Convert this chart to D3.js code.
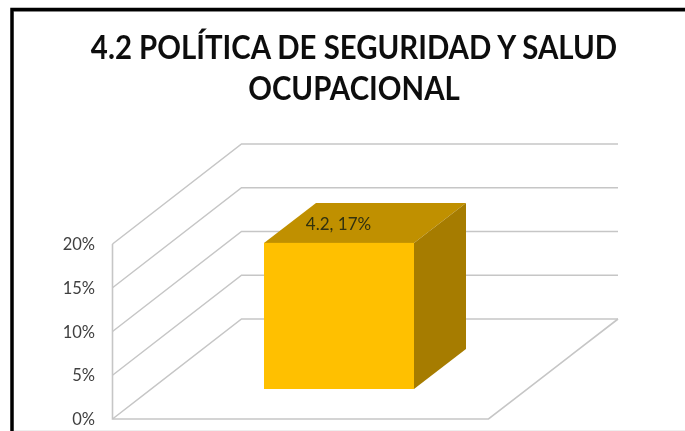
<!DOCTYPE html>
<html><head><meta charset="utf-8">
<script src="https://cdn.jsdelivr.net/npm/d3@7/dist/d3.min.js"></script>
<style>html,body{margin:0;padding:0;background:#fff;overflow:hidden}svg{display:block}text{font-family:Lato,"Open Sans",sans-serif}</style>
</head><body><svg width="685" height="431"><defs><filter id="soft" x="-5%" y="-5%" width="110%" height="110%"><feGaussianBlur stdDeviation="0.45"/></filter></defs></svg>
<script>
const titleLines = ["4.2 POLÍTICA DE SEGURIDAD Y SALUD", "OCUPACIONAL"];
const categories = ["4.2"];
const values = [0.167];
const tickValues = [0, 0.05, 0.10, 0.15, 0.20];

const svg = d3.select("svg");
const y = d3.scaleLinear().domain([0, 0.2]).range([419, 244]);
const fmt = d3.format(".0%");
const dx = 129, dy = -100;            // depth of the 3D box
const left = 112.5, floorW = 376;
const gridColor = "#c6c6c6";

// frame
svg.append("line").attr("x1", 14).attr("x2", 685).attr("y1", 11.5).attr("y2", 11.5).attr("stroke", "#b0b0b0");
svg.append("path").attr("d", "M12,431V9.5H685").attr("fill", "none").attr("stroke", "#000").attr("stroke-width", 3.5);
svg.append("line").attr("x1", 14).attr("x2", 685).attr("y1", 430.5).attr("y2", 430.5).attr("stroke", "#eeeeee");

const soft = svg.append("g").attr("filter", "url(#soft)");

// title
soft.append("g").selectAll("text").data(titleLines).join("text")
  .attr("transform", (d, i) => `translate(354,${58.5 + i * 41}) scale(0.93,1)`)
  .attr("text-anchor", "middle").attr("font-size", 31.6).attr("font-weight", 700).attr("fill", "#111")
  .text(d => d);

// walls
const walls = soft.append("g").attr("fill", "none").attr("stroke", gridColor);
walls.selectAll("path.g").data(tickValues).join("path").attr("class", "g")
  .attr("stroke-width", 1.5)
  .attr("d", d => `M${left},${y(d)}L${left + dx},${y(d) + dy}H618`);
walls.append("path").attr("stroke-width", 1.6).attr("d", `M${left},${y(0.2)}V${y(0)}H${left + floorW}L618,${y(0) + dy}`);

// axis labels
soft.append("g").selectAll("text").data(tickValues).join("text")
  .attr("x", 95).attr("y", d => y(d) + 6).attr("text-anchor", "end")
  .attr("font-size", 16.5).attr("fill", "#404040").text(fmt);

// bar
const x = d3.scaleBand().domain(categories).range([264, 414]);
const bx = 52, by = -40, base = 389;
const h = d => y(0) - y(d);
const bars = soft.append("g").selectAll("g").data(values).join("g");
bars.append("path").attr("fill", "#c09000").attr("d", (d, i) => {
  const x0 = x(categories[i]), x1 = x0 + x.bandwidth(), t = base - h(d);
  return `M${x0},${t}L${x0 + bx},${t + by}H${x1 + bx}L${x1},${t}Z`;
});
bars.append("path").attr("fill", "#a67c00").attr("d", (d, i) => {
  const x1 = x(categories[i]) + x.bandwidth(), t = base - h(d);
  return `M${x1},${t}L${x1 + bx},${t + by}V${base + by}L${x1},${base}Z`;
});
bars.append("rect").attr("fill", "#ffc000")
  .attr("x", (d, i) => x(categories[i])).attr("width", x.bandwidth())
  .attr("y", d => base - h(d)).attr("height", h);
bars.append("text").attr("x", (d, i) => x(categories[i]) + 74.5).attr("y", d => base - h(d) - 13)
  .attr("text-anchor", "middle").attr("font-size", 17).attr("fill", "#303010")
  .text((d, i) => `${categories[i]}, ${fmt(d)}`);
</script></body></html>
